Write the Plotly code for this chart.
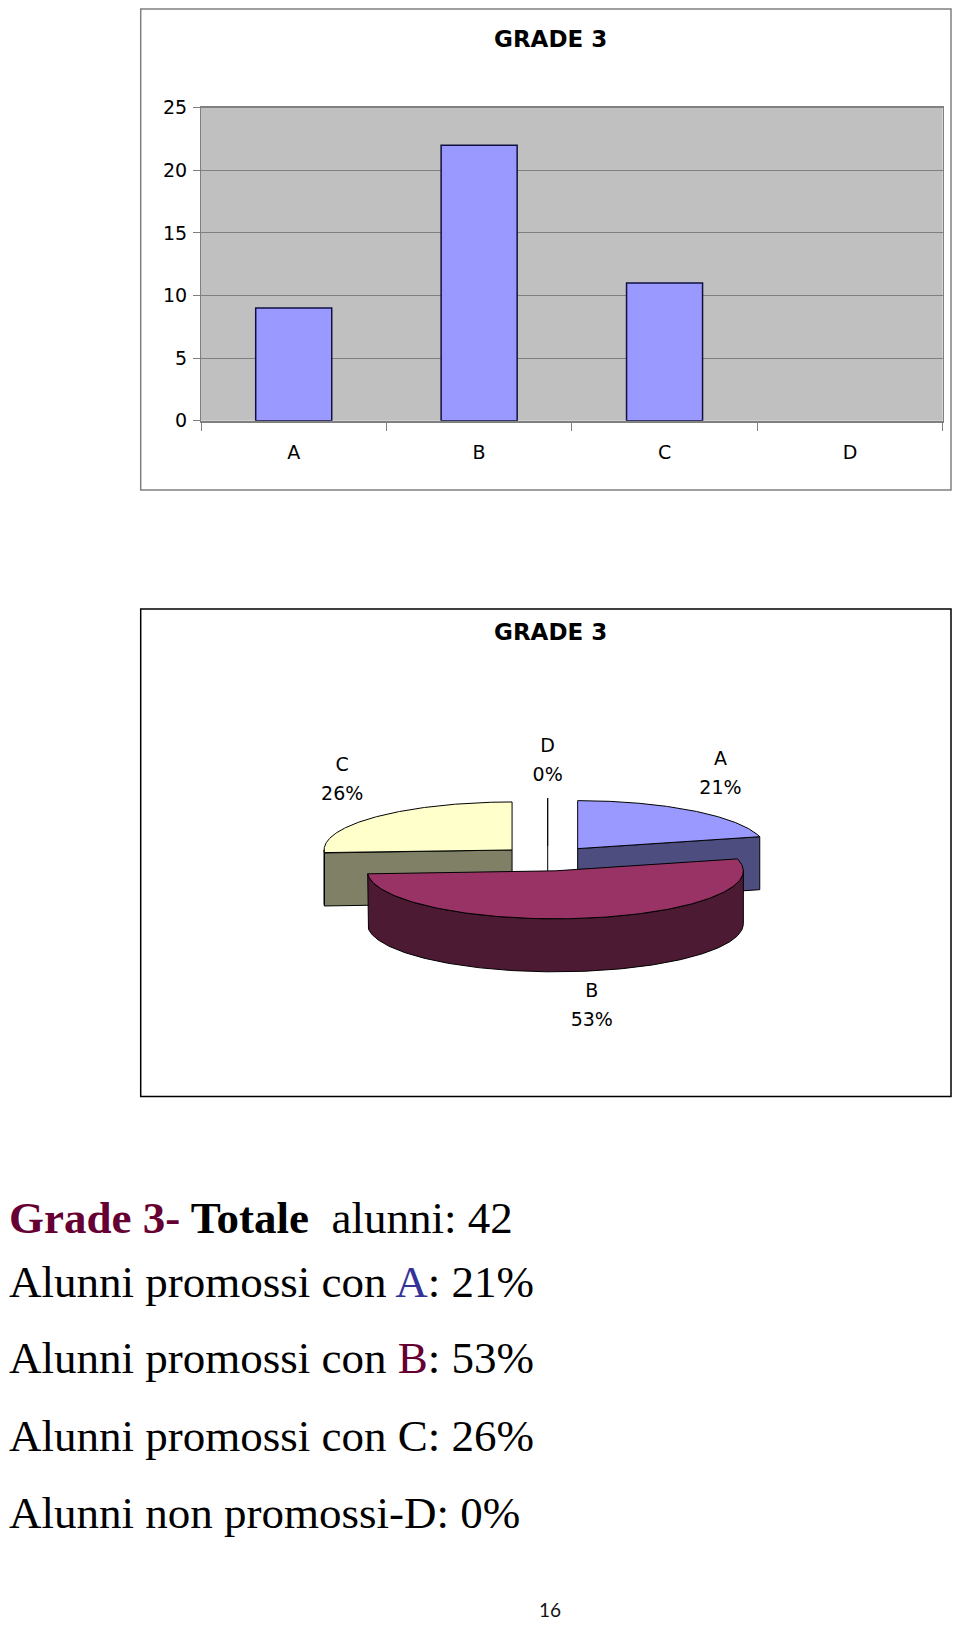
import numpy as np
import plotly.graph_objects as go

# ---------------- data ----------------
categories = ["A", "B", "C", "D"]
bar_counts = [9, 22, 11, 0]
pie_percent = [21, 53, 26, 0]
y_tick_values = [0, 5, 10, 15, 20, 25]
chart_title = "GRADE 3"
summary_lines = [
    "<b><span style='color:#660033'>Grade 3-</span> Totale</b>\u00a0 alunni: 42",
    "Alunni promossi con <span style='color:#333399'>A</span>: 21%",
    "Alunni promossi con <span style='color:#660033'>B</span>: 53%",
    "Alunni promossi con C: 26%",
    "Alunni non promossi-D: 0%",
]
page_number = "16"

# ---------------- style / page geometry ----------------
# positions below are page pixels; the figure sits at (OFFX, OFFY) inside the page body
W_FIG, H_FIG = 944, 1616
OFFX, OFFY = 8, 8
SANS = "DejaVu Sans"
SERIF = "Liberation Serif"
bar_fill = "#9999FF"
bar_edge = "#101040"
top_colors = ["#9999FF", "#993366", "#FFFFCC", "#CCFFFF"]
side_colors = ["#4D4D80", "#4D1A33", "#808066", "#668080"]

XMAX = OFFX + W_FIG - 1
YMIN = OFFY + 1
BX0, BX1, BY0, BY1 = 201, 942.7, 107.7, 420.7                  # bar plot area
BF = (140.7, min(956.7, XMAX), max(3.3, YMIN), 490)             # bar frame
PX0, PX1, PY0, PY1 = 140.7, min(958.0, XMAX), 609.0, 1096.4     # pie frame
CX, CY, RX, RY, DEPTH, PULL = 547.7, 858.5, 188.0, 48.0, 53.0, 0.26
LAB_GX, LAB_GY, LAB_HALF = 45.0, 36.0, 14.5


def px(x):
    return (x - OFFX) / W_FIG


def py(y):
    return 1 - (y - OFFY) / H_FIG


fig = go.Figure()

# ---------------- bar chart ----------------
fig.add_trace(go.Bar(
    x=categories, y=bar_counts, xaxis="x", yaxis="y",
    marker=dict(color=bar_fill,
                line=dict(color=bar_edge, width=[1.5 if v else 0 for v in bar_counts])),
    width=0.41, showlegend=False, hoverinfo="skip",
))

# ---------------- 3-D pie chart ----------------
total = float(sum(pie_percent))
starts = np.cumsum([0] + pie_percent[:-1]) / total * 2 * np.pi
ends = np.cumsum(pie_percent) / total * 2 * np.pi
mids = (starts + ends) / 2


def centre(i):
    m = mids[i]
    return CX + PULL * RX * np.sin(m), CY - PULL * RY * np.cos(m)


def rim(c, t, z=0.0):
    t = np.atleast_1d(t)
    return c[0] + RX * np.sin(t), c[1] - RY * np.cos(t) + z


def poly(xs, ys, fill, width=1.0):
    fig.add_trace(go.Scatter(
        x=list(xs), y=list(ys), xaxis="x2", yaxis="y2", mode="lines",
        fill="toself" if fill else None, fillcolor=fill,
        line=dict(color="black", width=width), showlegend=False,
        hoverinfo="skip",
    ))


order = sorted(range(len(pie_percent)), key=lambda i: -np.cos(mids[i]))
for i in order:
    c = centre(i)
    s, e = starts[i], ends[i]
    if pie_percent[i] == 0:
        rt = rim(c, s)
        poly([c[0], rt[0][0], rt[0][0], c[0]], [c[1], rt[1][0], rt[1][0] + DEPTH, c[1] + DEPTH], None)
        continue
    for ang, vis in ((s, np.sin(s) < -1e-9), (e, np.sin(e) > 1e-9)):
        if vis:
            rt = rim(c, ang)
            poly([c[0], rt[0][0], rt[0][0], c[0], c[0]],
                 [c[1], rt[1][0], rt[1][0] + DEPTH, c[1] + DEPTH, c[1]], side_colors[i])
    a, b = max(s, np.pi / 2), min(e, 3 * np.pi / 2)
    if b > a:
        t = np.linspace(a, b, 200)
        xt, yt = rim(c, t)
        xb, yb = rim(c, t[::-1], DEPTH)
        poly(np.r_[xt, xb, xt[:1]], np.r_[yt, yb, yt[:1]], side_colors[i])
    t = np.linspace(s, e, 200)
    xt, yt = rim(c, t)
    poly(np.r_[c[0], xt, c[0]], np.r_[c[1], yt, c[1]], top_colors[i])

lab_x, lab_y = [], []
for i in range(len(pie_percent)):
    c = centre(i)
    m = mids[i]
    rx_, ry_ = rim(c, m, DEPTH if np.cos(m) < 0 else 0.0)
    lab_x.append(rx_[0] + LAB_GX * np.sin(m))
    lab_y.append(ry_[0] - LAB_GY * np.sign(np.cos(m)))
for txts, sgn in ((categories, -1), ([f"{v}%" for v in pie_percent], 1)):
    fig.add_trace(go.Scatter(
        x=lab_x, y=[v + sgn * LAB_HALF for v in lab_y], xaxis="x2", yaxis="y2",
        mode="text", text=txts, textposition="middle center",
        textfont=dict(family=SANS, size=19, color="black"),
        showlegend=False, hoverinfo="skip"))

# ---------------- layout ----------------
shapes = [
    dict(type="rect", xref="x domain", yref="y domain", x0=0, x1=1, y0=0, y1=1,
         fillcolor="#C0C0C0", line=dict(width=0), layer="below"),
    dict(type="rect", xref="paper", yref="paper", x0=px(BF[0]), x1=px(BF[1]),
         y0=py(BF[3]), y1=py(BF[2]), line=dict(color="#808080", width=1.5)),
    dict(type="rect", xref="paper", yref="paper", x0=px(PX0), x1=px(PX1),
         y0=py(PY1), y1=py(PY0), line=dict(color="black", width=1.5)),
]

annotations = [
    dict(text=f"<b>{chart_title}</b>", x=px(550.5), y=py(39.3), xref="paper", yref="paper",
         showarrow=False, font=dict(family=SANS, size=23, color="black"),
         xanchor="center", yanchor="middle"),
    dict(text=f"<b>{chart_title}</b>", x=px(550.5), y=py(631.5), xref="paper", yref="paper",
         showarrow=False, font=dict(family=SANS, size=23, color="black"),
         xanchor="center", yanchor="middle"),
    dict(text=page_number, x=px(550), y=py(1609), xref="paper", yref="paper",
         showarrow=False, font=dict(family="Lato", size=19, color="#111111"),
         xanchor="center", yanchor="middle", borderpad=0),
]
baselines = [1233, 1297, 1373, 1451, 1528]
for txt, base in zip(summary_lines, baselines):
    annotations.append(dict(
        text=txt, x=0, y=py(base - 15.2), xref="paper", yref="paper",
        showarrow=False, font=dict(family=SERIF, size=45, color="black"),
        xanchor="left", yanchor="middle", borderpad=0))

fig.update_layout(
    width=W_FIG, height=H_FIG, autosize=False,
    margin=dict(l=0, r=0, t=0, b=0, pad=0, autoexpand=False),
    paper_bgcolor="white", plot_bgcolor="rgba(0,0,0,0)",
    showlegend=False,
    xaxis=dict(domain=[px(BX0), px(BX1)], type="category", range=[-0.5, 3.5],
               tickson="boundaries", ticks="outside", ticklen=9, tickcolor="#808080",
               showline=True, linecolor="#808080", linewidth=1.5, mirror=True,
               showgrid=False, zeroline=False, ticklabelstandoff=14, automargin=False,
               tickfont=dict(family=SANS, size=19, color="black"), fixedrange=True),
    yaxis=dict(domain=[py(BY1), py(BY0)], range=[0, 25], tickvals=y_tick_values,
               ticks="outside", ticklen=7, tickcolor="#808080",
               showline=True, linecolor="#808080", linewidth=1, mirror=True,
               showgrid=True, gridcolor="#808080", gridwidth=1, zeroline=False,
               ticklabelstandoff=2, automargin=False,
               tickfont=dict(family=SANS, size=19, color="black"), fixedrange=True),
    xaxis2=dict(domain=[px(PX0), px(PX1)], range=[PX0, PX1], visible=False,
                fixedrange=True, anchor="y2", automargin=False),
    yaxis2=dict(domain=[py(PY1), py(PY0)], range=[PY1, PY0], visible=False,
                fixedrange=True, anchor="x2", automargin=False),
    shapes=shapes, annotations=annotations,
)

fig.write_html("out.html")
